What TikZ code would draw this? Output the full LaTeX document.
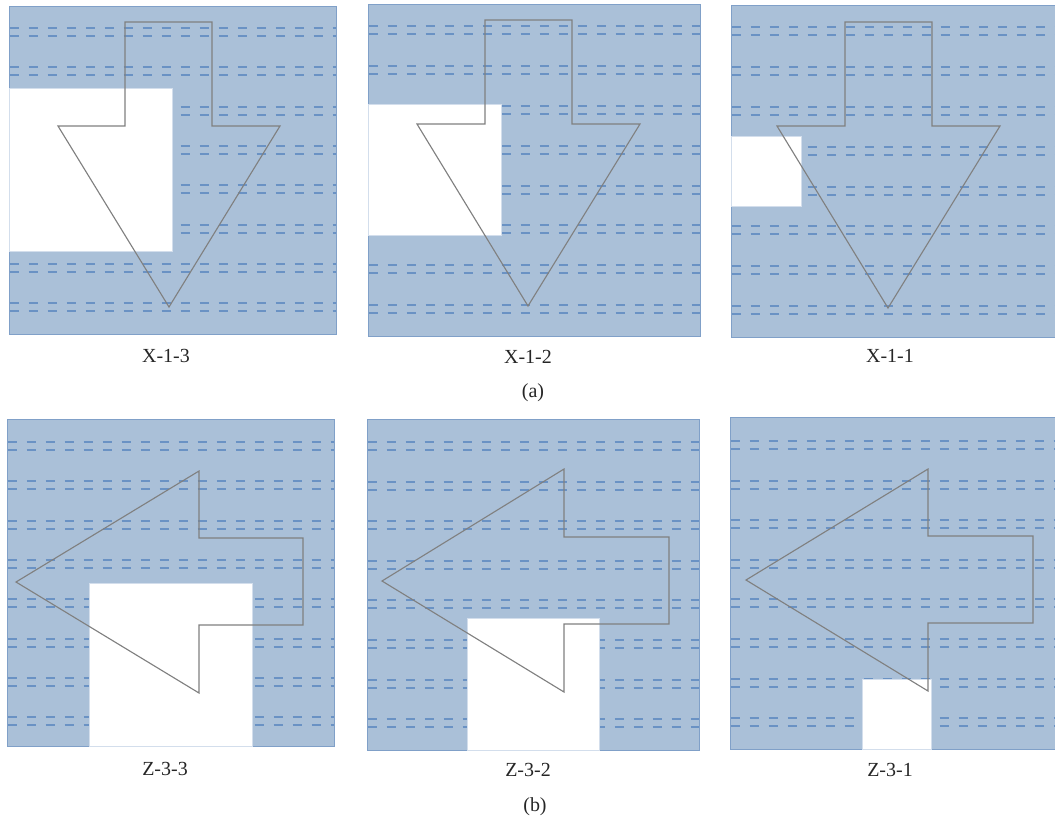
\documentclass[tikz,border=0pt]{standalone}
\usepackage{fontspec}
\setmainfont{Liberation Serif}
\definecolor{panelfill}{RGB}{170,192,216}
\definecolor{panelline}{RGB}{128,160,200}
\definecolor{layerdash}{RGB}{106,146,196}
\definecolor{outlinegrey}{RGB}{128,128,128}

\begin{document}
\begin{tikzpicture}[
    x=0.025cm, y=-0.025cm,
    panel/.style={fill=panelfill, draw=panelline, line width=0.6pt},
    layer/.style={draw=layerdash, line width=1.4pt, dash pattern=on 0.225cm off 0.25cm},
    hole/.style={fill=white, draw=panelline!35, line width=0.4pt},
    outline/.style={draw=outlinegrey, line width=0.8pt, line join=miter},
    caption/.style={font=\fontsize{14.2}{16}\selectfont, text=black!85, inner sep=0pt}
]
\useasboundingbox (0,0) rectangle (1055,825);
\clip (0,0) rectangle (1055,825);

% Panels with dashed layer lines: left/top/right/bottom/first line/spacing
\foreach \l/\t/\r/\b/\d/\s in {9/6/336/334/28/39.3, 368/4/700/336/26/39.9, 731/5/1060/337/27/39.9,
    7/419/334/746/442/39.3, 367/419/699/750/442/39.6, 730/417/1060/749/441/39.6}{
  \path[panel] (\l,\t) rectangle (\r,\b);
  \foreach \i in {0,...,7}{
    \pgfmathsetmacro{\ya}{round(\d+\s*\i)}
    \pgfmathsetmacro{\yb}{\ya+8}
    \draw[layer] ({\l+0.5},\ya) -- ({\r-0.5},\ya);
    \draw[layer] ({\l+0.5},\yb) -- ({\r-0.5},\yb);
  }
}

% Holes
\path[hole] (9,88) rectangle (172,251);
\path[hole] (368,104) rectangle (501,235);
\path[hole] (731,136) rectangle (801,206);
\path[hole] (89,583) rectangle (252,746);
\path[hole] (467,618) rectangle (599,750);
\path[hole] (862,679) rectangle (931,749);

% Arrow outlines, row (a)
\draw[outline] (125,22) -- (212,22) -- (212,126) -- (280,126) -- (169,307) -- (58,126) -- (125,126) -- cycle;
\draw[outline] (485,20) -- (572,20) -- (572,124) -- (640,124) -- (528,306) -- (417,124) -- (485,124) -- cycle;
\draw[outline] (845,22) -- (932,22) -- (932,126) -- (1000,126) -- (888,308) -- (777,126) -- (845,126) -- cycle;

% Arrow outlines, row (b)
\draw[outline] (16,582) -- (199,471) -- (199,538) -- (303,538) -- (303,625) -- (199,625) -- (199,693) -- cycle;
\draw[outline] (382,581) -- (564,469) -- (564,537) -- (669,537) -- (669,624) -- (564,624) -- (564,692) -- cycle;
\draw[outline] (746,580) -- (928,469) -- (928,536) -- (1033,536) -- (1033,623) -- (928,623) -- (928,691) -- cycle;

% Captions
\node[caption] (x13) at (166,356) {X-1-3};
\node[caption] (x12) at (528,357) {X-1-2};
\node[caption] (x11) at (890,356) {X-1-1};
\node[caption] (suba) at (533,393) {(a)};
\node[caption] (z33) at (165,769) {Z-3-3};
\node[caption] (z32) at (528,770) {Z-3-2};
\node[caption] (z31) at (890,770) {Z-3-1};
\node[caption] (subb) at (535,807) {(b)};

\end{tikzpicture}
\end{document}
